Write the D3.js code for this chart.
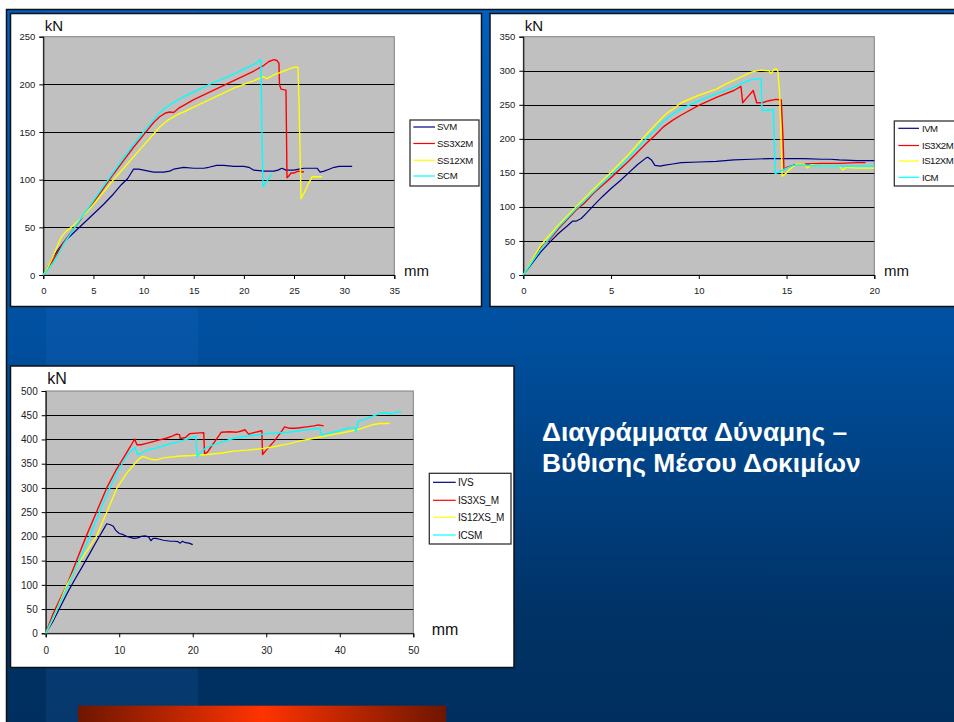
<!DOCTYPE html>
<html><head><meta charset="utf-8">
<script src="https://cdn.jsdelivr.net/npm/d3@7"></script>
<style>body{margin:0;background:#fff;overflow:hidden}text{font-family:"Liberation Sans",Arial,sans-serif}</style>
</head><body><svg id="c" width="954" height="722"></svg>
<script>
// ---------- DATA ----------
const c1XTicks = [0,5,10,15,20,25,30,35];
const c1YTicks = [0,50,100,150,200,250];
const c2XTicks = [0,5,10,15,20];
const c2YTicks = [0,50,100,150,200,250,300,350];
const c3XTicks = [0,10,20,30,40,50];
const c3YTicks = [0,50,100,150,200,250,300,350,400,450,500];

const c1Names = ["SVM","SS3X2M","SS12XM","SCM"];
const c2Names = ["IVM","IS3X2M","IS12XM","ICM"];
const c3Names = ["IVS","IS3XS_M","IS12XS_M","ICSM"];
const seriesColors = ["#000080","#ff0000","#ffff00","#00ffff"];

const svm = [[0,0],[0.5,9],[1,19],[1.5,27],[2,34],[2.5,39],[3,44],[4,54],[5,64],[6,74],[7,85],[7.8,95],[8.4,101],[8.7,106],[9,111],[9.5,111],[10,110],[10.5,109],[11,108],[12,108],[12.6,109],[13,111],[14,113],[15,112],[16,112],[16.5,113],[17.3,115],[18,115],[19,114],[20,114],[20.5,113],[21,110],[22,109],[23,109],[23.4,110],[23.8,112],[24.2,110],[25,110],[25.5,111],[26,112],[27,112],[27.3,112],[27.6,108],[28,109],[28.5,111],[29,113],[29.5,114],[30,114],[30.8,114]];
const ss3x2m = [[0,0],[0.5,8],[1,16],[1.5,25],[2,34],[3,48],[4,62],[5,76],[6,91],[7,106],[8,120],[9,134],[10,147],[11,160],[11.6,166],[12.2,170],[12.6,171],[13,170.5],[13.5,175],[14,178],[15,184],[16,189],[17,194],[18,199],[19,204],[20,209],[21,214],[22,220],[22.5,224],[23,226],[23.3,225],[23.5,222],[23.55,200],[23.7,195],[24.2,194],[24.3,102],[24.5,104],[24.7,107],[25,107],[25.4,109],[25.8,108],[26,108.5]];
const ss12xm = [[0,0],[0.5,9],[1,20],[1.5,33],[1.8,40],[2.2,45],[3,52],[4,62],[5,74],[6,87],[7,100],[8,112],[9,124],[10,136],[11,148],[11.5,154],[12,159],[12.5,163],[13,166],[13.5,169],[14,171],[15,176],[16,181],[17,186],[18,191],[19,196],[20,200],[21,204],[21.9,208],[22.3,206],[23,210],[24,214],[25,218],[25.4,218],[25.5,180],[25.7,80],[26,86],[26.4,95],[26.8,103],[27.8,103]];
const scm = [[0,0],[0.5,6],[1,13],[1.5,22],[2,32],[3,48],[4,63],[5,78],[6,93],[7,108],[8,123],[9,137],[10,150],[11,163],[11.5,169],[12,174],[13,181],[14,187],[15,192],[16,197],[17,202],[18,206],[19,211],[19.5,213],[20,216],[21,221],[21.5,224],[21.6,226],[21.7,225],[21.8,150],[21.9,93],[22.2,97],[22.6,103],[22.8,106]];

const ivm = [[0,0],[0.5,17],[1,34],[1.5,48],[2,61],[2.5,72],[2.8,79],[3,79],[3.3,83],[3.6,91],[4,102],[4.5,115],[5,127],[5.5,138],[6,150],[6.5,162],[7,172],[7.1,173],[7.3,169],[7.5,161],[7.8,160],[8,161],[8.5,163],[9,165],[10,166],[11,167],[12,169],[13,170],[14,171],[14.5,171],[15,171],[16,171],[17,170],[17.5,170],[18,169],[19,168],[20,168]];
const is3x2m = [[0,0],[0.5,21],[1,40],[1.5,52],[2,68],[3,95],[3.5,106],[4,120],[5,143],[6,167],[7,193],[7.5,205],[8,218],[8.5,227],[9,235],[10,249],[11,261],[12,271],[12.4,277],[12.5,253],[12.8,262],[13.1,271],[13.3,253],[13.6,253],[14,256],[14.4,258],[14.7,257],[14.8,200],[14.85,155],[15,158],[15.5,162],[16,163],[17,164],[18,164],[19,165],[19.5,165]];
const is12xm = [[0,0],[0.5,22],[1,44],[2,73],[3,100],[4,126],[5,151],[6,177],[7,206],[7.5,220],[8,233],[8.2,238],[8.5,243],[9,253],[10,264],[11,273],[11.5,280],[12,286],[12.5,292],[13,298],[13.5,301],[14,300],[14.1,296],[14.3,302],[14.4,303],[14.5,300],[14.6,270],[14.7,190],[14.75,145],[15,150],[15.3,158],[15.6,163],[16,163],[16.2,157],[16.4,162],[17,160],[18,160],[18.2,154],[18.4,158],[19,157],[19.7,157],[20,157]];
const icm = [[0,0],[0.5,19],[1,38],[2,70],[3,97],[4,122],[5,147],[6,172],[7,200],[7.5,213],[8,226],[8.5,236],[9,244],[10,256],[11,266],[12,276],[12.5,282],[13,287],[13.3,288],[13.55,288],[13.6,242],[14,242],[14.25,243],[14.35,149],[14.6,152],[15,157],[15.4,161],[16,161],[17,160],[18,160],[19,160],[20,160]];

const ivs = [[0,0],[1,25],[2,55],[3,85],[4,112],[5,138],[6,165],[7,192],[7.5,205],[8,218],[8.3,226],[8.8,224],[9.2,221],[9.5,213],[10,206],[10.5,204],[11,200],[11.5,198],[12,196],[12.5,197],[13,200],[13.5,201],[14,199],[14.3,191],[14.6,196],[15,196],[15.5,194],[16,192],[16.5,191],[17,190],[17.5,190],[18,189],[18.3,186],[18.6,190],[19,187],[19.5,186],[20,183]];
const is3xsM = [[0,0],[1,40],[2,72],[2.9,100],[4.2,150],[5.5,200],[6.9,250],[8.3,300],[9.5,335],[10.5,360],[11.5,385],[12.1,401],[12.4,389],[13,389],[13.7,392],[14.5,395],[15.5,399],[16.5,403],[17.2,407],[17.8,411],[18.2,410],[18.3,402],[19,404],[19.6,412],[20.5,413],[21.5,414],[21.6,370],[22,374],[22.5,385],[23.2,400],[23.9,415],[25,416],[26,415],[26.5,417],[27.1,420],[27.6,411],[28.3,414],[29.4,418],[29.5,369],[30,378],[31,395],[32,415],[32.5,426],[33.2,423],[34,423],[35.5,426],[36.5,428],[37.1,430],[37.8,428]];
const is12xsM = [[0,0],[1,30],[2.9,100],[4.5,145],[6.9,200],[8.3,250],[9.7,300],[11,330],[12.1,350],[12.7,360],[13.2,365],[13.8,362],[14.5,358],[15.1,358],[16,362],[18.3,366],[20,367],[22,369],[24,372],[25.5,376],[27.5,378],[29.4,381],[31,385],[33,391],[34.6,397],[36,401],[37.3,405],[39,410],[41.4,417],[43,423],[44.6,431],[45.5,433],[46.8,433]];
const icsm = [[0,0],[1,32],[2,65],[3,97],[4.5,148],[6,200],[7.3,250],[8.7,300],[10,340],[11.2,370],[12.15,384],[12.5,369],[13,371],[13.7,378],[15,382],[16.5,389],[18,395],[19.5,402],[20.4,407],[20.6,364],[21.2,375],[21.9,384],[23,390],[25.5,402],[27,406],[29,410],[31,413],[33,415],[35,419],[37.3,423],[37.5,409],[38.5,413],[40,418],[40.9,423],[42,424],[42.2,417],[42.5,437],[43.5,442],[44.5,448],[45.5,454],[46.5,455],[47,452],[47.5,456],[48.4,457]];

const titleLines = ["Διαγράμματα Δύναμης –","Βύθισης Μέσου Δοκιμίων"];

// ---------- DRAW ----------
const svg = d3.select("#c");
const defs = svg.append("defs");
const bg = defs.append("linearGradient").attr("id","bg").attr("x1",0).attr("y1",0).attr("x2",0).attr("y2",1);
bg.append("stop").attr("offset",0).attr("stop-color","#005fbf");
bg.append("stop").attr("offset",0.45).attr("stop-color","#0050a0");
bg.append("stop").attr("offset",0.85).attr("stop-color","#003265");
bg.append("stop").attr("offset",1).attr("stop-color","#002f5e");
const rb = defs.append("linearGradient").attr("id","rb").attr("x1",0).attr("y1",0).attr("x2",1).attr("y2",0);
rb.append("stop").attr("offset",0).attr("stop-color","#6e1600");
rb.append("stop").attr("offset",0.5).attr("stop-color","#ff3300");
rb.append("stop").attr("offset",1).attr("stop-color","#6e1600");

svg.append("rect").attr("width",954).attr("height",722).attr("fill","#fff");
svg.append("rect").attr("x",6.5).attr("y",9.5).attr("width",960).attr("height",720)
  .attr("fill","url(#bg)").attr("stroke","#111").attr("stroke-width",1.5);
svg.append("rect").attr("x",46).attr("y",11).attr("width",152).attr("height",720)
  .attr("fill","#3a8cf0").attr("opacity",0.1);
svg.append("rect").attr("x",78).attr("y",705.7).attr("width",368).attr("height",20).attr("fill","url(#rb)");

const title = svg.append("text").attr("fill","#fff").attr("font-weight","bold").attr("font-size",26.4);
titleLines.forEach((t,i)=>title.append("tspan").attr("x",542).attr("y",441+i*30.7).text(t));

function drawChart(o){
  const g = svg.append("g");
  g.append("rect").attr("x",o.box[0]).attr("y",o.box[1]).attr("width",o.box[2]).attr("height",o.box[3])
    .attr("fill","#fff").attr("stroke","#111").attr("stroke-width",1.5);
  const x = d3.scaleLinear().domain(o.xd).range([o.p[0],o.p[1]]);
  const y = d3.scaleLinear().domain(o.yd).range([o.p[3],o.p[2]]);
  g.append("rect").attr("x",o.p[0]).attr("y",o.p[2]).attr("width",o.p[1]-o.p[0]).attr("height",o.p[3]-o.p[2])
    .attr("fill","#c0c0c0").attr("stroke","#808080").attr("stroke-width",1);
  g.selectAll(".grid").data(o.yt.slice(1,-1)).join("line")
    .attr("x1",o.p[0]).attr("x2",o.p[1]).attr("y1",d=>Math.round(y(d))+0.5).attr("y2",d=>Math.round(y(d))+0.5)
    .attr("stroke","#000").attr("stroke-width",1);
  const fs = o.fs;
  const ya = g.append("g").attr("transform",`translate(${o.p[0]},0)`)
    .call(d3.axisLeft(y).tickValues(o.yt).tickSize(4).tickPadding(4).tickFormat(d3.format("d")));
  const xa = g.append("g").attr("transform",`translate(0,${o.p[3]})`)
    .call(d3.axisBottom(x).tickValues(o.xt).tickSize(4).tickPadding(o.xpad).tickFormat(d3.format("d")));
  [ya,xa].forEach(a=>{
    a.selectAll("text").attr("font-size",fs).attr("fill","#222").attr("font-family","Liberation Sans, Arial, sans-serif");
    a.select(".domain").attr("stroke","#000");
    a.selectAll(".tick line").attr("stroke","#000");
  });
  g.append("text").attr("x",o.p[0]+1.5).attr("y",o.kn).attr("font-size",o.big).attr("fill","#111").text("kN");
  g.append("text").attr("x",o.mm[0]).attr("y",o.mm[1]).attr("font-size",o.big).attr("fill","#111").text("mm");
  const line = d3.line().x(d=>x(d[0])).y(d=>y(d[1]));
  o.series.forEach((s,i)=>{
    g.append("path").attr("d",line(s)).attr("fill","none").attr("stroke",seriesColors[i])
      .attr("stroke-width",i===0?1.2:1.4).attr("stroke-linejoin","round");
  });
  const L = o.leg;
  g.append("rect").attr("x",L.x).attr("y",L.y).attr("width",L.w).attr("height",L.h)
    .attr("fill","#fff").attr("stroke","#333").attr("stroke-width",1.3);
  o.names.forEach((n,i)=>{
    const yy = L.rows[i];
    g.append("line").attr("x1",L.lx[0]).attr("x2",L.lx[1]).attr("y1",yy).attr("y2",yy)
      .attr("stroke",seriesColors[i]).attr("stroke-width",1.2);
    g.append("text").attr("x",L.tx).attr("y",yy).attr("dy","0.35em").attr("font-size",L.fs)
      .attr("letter-spacing",L.ls).attr("fill","#111").text(n);
  });
}

drawChart({box:[10.5,13.5,471,293], p:[43.3,394.3,36.7,275], xd:[0,35], yd:[0,250], xt:c1XTicks, yt:c1YTicks,
  fs:9.5, xpad:8, big:15, kn:30.5, mm:[404,276], series:[svm,ss3x2m,ss12xm,scm], names:c1Names,
  leg:{x:410,y:120,w:69,h:66,rows:[127,143.5,160.3,176],lx:[413.3,435],tx:437,fs:9.6,ls:-0.3}});
drawChart({box:[490,13.5,480,293], p:[523.3,874.3,36.7,275], xd:[0,20], yd:[0,350], xt:c2XTicks, yt:c2YTicks,
  fs:9.5, xpad:8, big:15, kn:30.5, mm:[884,276], series:[ivm,is3x2m,is12xm,icm], names:c2Names,
  leg:{x:894.3,y:121,w:70,h:65,rows:[128.3,145.5,161,177.3],lx:[898.3,919],tx:922,fs:9.6,ls:-0.5}});
drawChart({box:[10.5,366,503.5,301.5], p:[45.7,413.3,391,633.3], xd:[0,50], yd:[0,500], xt:c3XTicks, yt:c3YTicks,
  fs:10, xpad:9.5, big:16, kn:384, mm:[431.7,635], series:[ivs,is3xsM,is12xsM,icsm], names:c3Names,
  leg:{x:429.3,y:473.3,w:81.7,h:70.7,rows:[482.3,500.3,517.3,535],lx:[433,455.7],tx:458,fs:10,ls:-0.2}});
</script></body></html>
